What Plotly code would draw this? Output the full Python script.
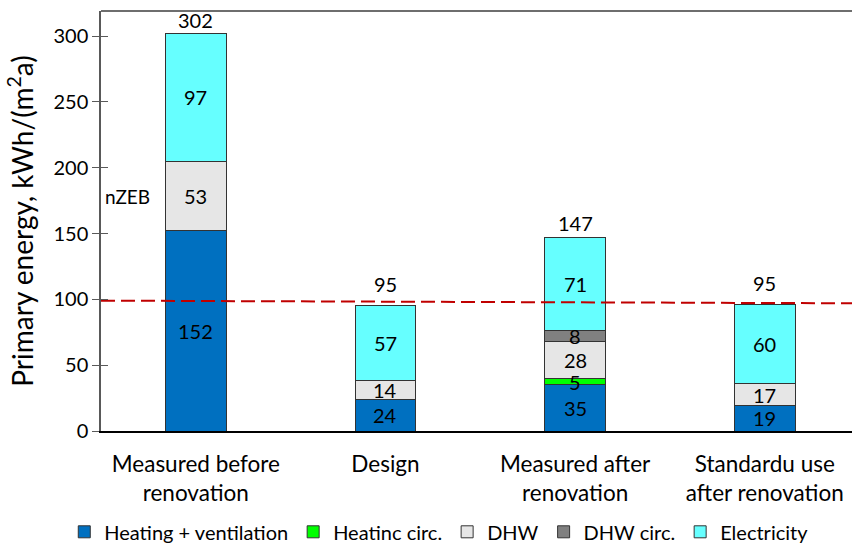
import plotly.graph_objects as go

categories = ["Measured before<br>renovation", "Design", "Measured after<br>renovation",
              "Standardu use<br>after renovation"]

heating_vent = [152, 24, 35, 19]
heating_circ = [0, 0, 5, 0]
dhw = [53, 14, 28, 17]
dhw_circ = [0, 0, 8, 0]
electricity = [97, 57, 71, 60]
totals = [302, 95, 147, 95]

nzeb_level = [99, 97]

series = [
    ("Heating + ventilation", heating_vent, "#0070C0"),
    ("Heatinc circ.", heating_circ, "#00FF00"),
    ("DHW", dhw, "#E6E6E6"),
    ("DHW circ.", dhw_circ, "#808080"),
    ("Electricity", electricity, "#66FFFF"),
]

FONT = "Lato, 'Open Sans', sans-serif"
x_idx = list(range(len(categories)))
Y_RANGE = [0, 319]

fig = go.Figure()
base = [0] * len(categories)
for name, vals, color in series:
    fig.add_trace(go.Bar(
        x=x_idx, y=vals, name=name, width=0.32,
        marker=dict(color=color, line=dict(color="#333333", width=1)),
    ))
    # segment labels as annotations so small segments keep full-size text
    for i, v in enumerate(vals):
        if v:
            fig.add_annotation(x=i, y=base[i] + v / 2, text=str(v), showarrow=False,
                               font=dict(size=20, color="black", family=FONT))
        base[i] += v

# nZEB reference line
fig.add_trace(go.Scatter(x=[-0.5, 3.46], y=nzeb_level, mode="lines", showlegend=False,
                         line=dict(color="#C00000", width=2, dash="14px,6px"), hoverinfo="skip"))

# dummy trace on the overlay axis so the inside ticks get drawn
fig.add_trace(go.Scatter(x=[None], y=[None], yaxis="y2", showlegend=False, hoverinfo="skip"))

# totals above bars (95s sit a bit higher, above the dashed line)
shifts = [-1, 8, 0, 8]
for i, t in enumerate(totals):
    fig.add_annotation(x=i, y=base[i], text=str(t), showarrow=False, yanchor="bottom",
                       yshift=shifts[i], font=dict(size=20, color="black", family=FONT))

fig.add_annotation(x=-0.5, y=178, text="nZEB", showarrow=False, xanchor="left", xshift=2,
                   font=dict(size=19, color="black", family=FONT))

# grey top border of the plot area
fig.add_shape(type="line", xref="paper", yref="paper", x0=0, x1=1, y0=1, y1=1,
              line=dict(color="#6E6E6E", width=2))

fig.update_layout(
    width=852, height=546, barmode="stack",
    margin=dict(l=101, r=0, t=11, b=115, autoexpand=False),
    plot_bgcolor="white", paper_bgcolor="white",
    font=dict(family=FONT, color="black"),
    legend=dict(orientation="h", xref="container", yref="container", x=0.515, xanchor="center",
                y=0.026, yanchor="middle", font=dict(size=20, family=FONT),
                itemwidth=30, traceorder="normal"),
    xaxis=dict(range=[-0.5, 3.46], tickmode="array", tickvals=x_idx, ticktext=categories,
               showline=True, linecolor="black", linewidth=1.5, ticks="", automargin=False,
               ticklabelstandoff=12, tickfont=dict(size=22.5, family=FONT), showgrid=False),
    yaxis=dict(range=Y_RANGE, tickvals=[0, 50, 100, 150, 200, 250, 300], showgrid=False,
               showline=True, linecolor="#595959", linewidth=1.5, ticks="outside",
               ticklen=7, tickcolor="#595959", tickfont=dict(size=20, family=FONT),
               zeroline=False, automargin=False,
               title=dict(text="Primary energy, kWh/(m<sup>2</sup>a)", standoff=12,
                          font=dict(size=28, family=FONT))),
    yaxis2=dict(range=Y_RANGE, overlaying="y", side="left", tickvals=[0, 50, 100, 150, 200, 250, 300],
                ticks="inside", ticklen=7, tickcolor="#595959", showticklabels=False,
                showgrid=False, zeroline=False, showline=False),
)

# the page body has an 8px default margin; drop it so the figure fills the window
fig.write_html("out.html", config={"displayModeBar": False},
               post_script="document.body.style.margin='0';")
